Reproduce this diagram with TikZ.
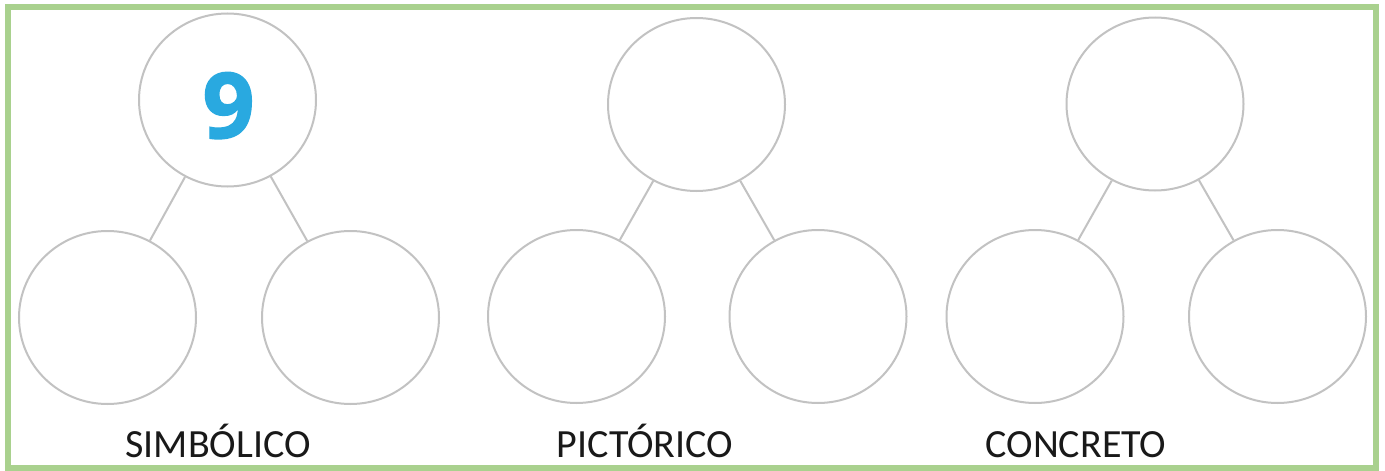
\documentclass[tikz,border=0pt]{standalone}
\usepackage{fontspec}
\setmainfont{Carlito}
\newfontfamily\ninefont[BoldFeatures={FakeBold=1.6}]{Open Sans}
\usetikzlibrary{shapes.geometric}
\definecolor{framegreen}{HTML}{A9D18E}
\definecolor{ringgray}{HTML}{C2C2C2}
\definecolor{nineblue}{HTML}{29A9E0}
\tikzset{
  ring/.style={ellipse, draw=ringgray, line width=2pt, minimum width=177pt, minimum height=173pt, inner sep=0pt, fill=white},
  link/.style={draw=ringgray, line width=2pt},
  caption/.style={anchor=base, font=\fontsize{40}{44}\selectfont, text=black!90, inner sep=0pt}
}
\begin{document}
\begin{tikzpicture}[x=1pt,y=-1pt]
\useasboundingbox (0,0) rectangle (1385,471);
\fill[white] (0,0) rectangle (1385,471);
\draw[framegreen, line width=6pt] (7.5,7) rectangle (1376,467.5);
% group 1
\node[ring] (t1) at (227.5,100) {};
\node[ring] (l1) at (107.5,317.5) {};
\node[ring] (r1) at (350.5,317.5) {};
\draw[link] (t1) -- (l1);
\draw[link] (t1) -- (r1);
\node[anchor=base, inner sep=0pt, text=nineblue, font=\ninefont\bfseries\fontsize{91}{95}\selectfont] (nine) at (228.5,138) {9};
% group 2
\node[ring] (t2) at (696.5,104.5) {};
\node[ring] (l2) at (576.5,316.5) {};
\node[ring] (r2) at (818,316.5) {};
\draw[link] (t2) -- (l2);
\draw[link] (t2) -- (r2);
% group 3
\node[ring] (t3) at (1155,104) {};
\node[ring] (l3) at (1035,316.5) {};
\node[ring] (r3) at (1277.5,316.5) {};
\draw[link] (t3) -- (l3);
\draw[link] (t3) -- (r3);
% captions
\node[caption] (c1) at (218,457) {SIMBÓLICO};
\node[caption] (c2) at (645,457) {PICTÓRICO};
\node[caption] (c3) at (1076,457) {CONCRETO};
\end{tikzpicture}
\end{document}
